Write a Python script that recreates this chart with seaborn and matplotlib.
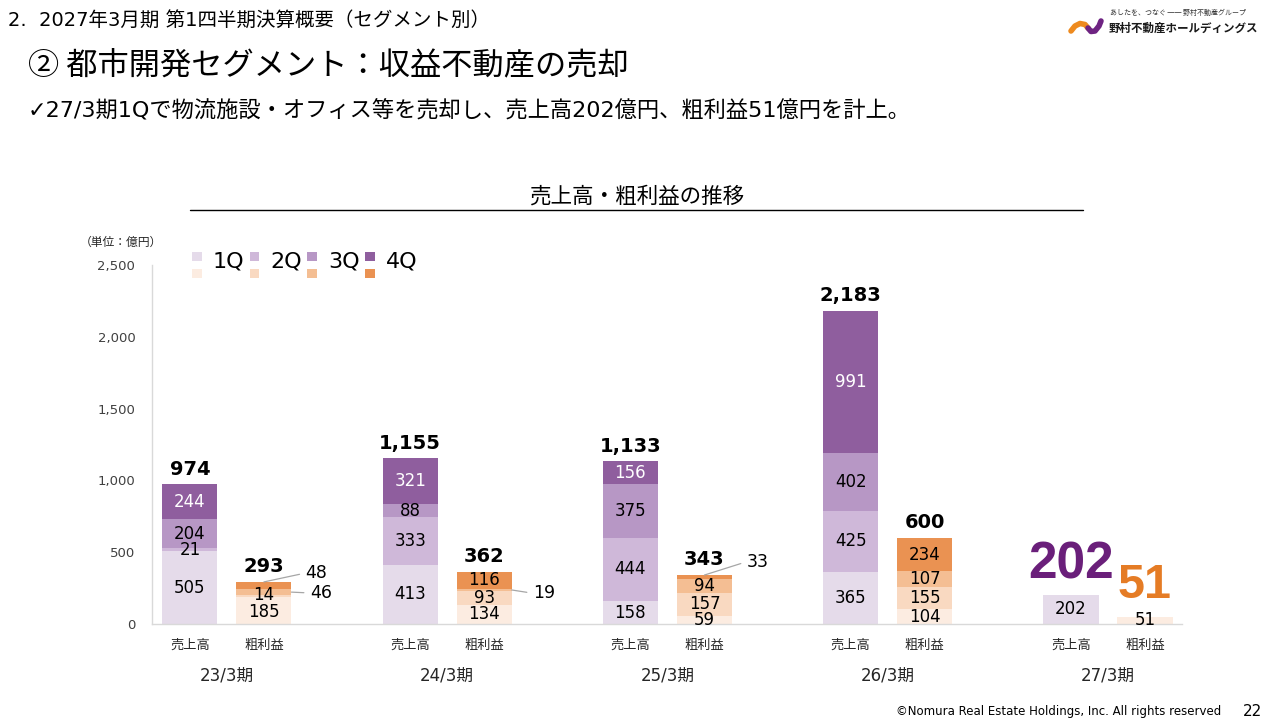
"""都市開発セグメント 売上高・粗利益の推移 — seaborn 積み上げ棒グラフ."""

import matplotlib
matplotlib.use("Agg")
import matplotlib.pyplot as plt
import matplotlib.transforms as mtransforms
from matplotlib.lines import Line2D
from matplotlib.patches import Rectangle
from matplotlib.ticker import FuncFormatter
import numpy as np
import pandas as pd
import seaborn as sns

# データ（単位：億円）
periods = ["23/3期", "24/3期", "25/3期", "26/3期", "27/3期"]
metrics = ["売上高", "粗利益"]
quarters = ["1Q", "2Q", "3Q", "4Q"]

sales_1q = [505, 413, 158, 365, 202]
sales_2q = [21, 333, 444, 425, np.nan]
sales_3q = [204, 88, 375, 402, np.nan]
sales_4q = [244, 321, 156, 991, np.nan]

gp_1q = [185, 134, 59, 104, 51]
gp_2q = [14, 93, 157, 155, np.nan]
gp_3q = [46, 19, 94, 107, np.nan]
gp_4q = [48, 116, 33, 234, np.nan]

sales_colors = {"1Q": "#E5DBEA", "2Q": "#CFB8D9", "3Q": "#B797C5", "4Q": "#8F5E9E"}
gp_colors = {"1Q": "#FCECE1", "2Q": "#F9D9C1", "3Q": "#F4BE93", "4Q": "#EA9252"}

CJK = ["Noto Sans CJK JP", "DejaVu Sans"]
MIX = ["DejaVu Sans", "Noto Sans CJK JP"]  # 欧文はDejaVu、和文はNoto
NUM = ["DejaVu Sans"]

# long形式 + 累積値
rows = []
series = {
    "売上高": [sales_1q, sales_2q, sales_3q, sales_4q],
    "粗利益": [gp_1q, gp_2q, gp_3q, gp_4q],
}
for m in metrics:
    for i, p in enumerate(periods):
        cum = 0.0
        for q, vals in zip(quarters, series[m]):
            v = vals[i]
            if np.isnan(v):
                continue
            cum += v
            rows.append({"period": p, "metric": m, "quarter": q, "value": v, "cum": cum})
df = pd.DataFrame(rows)

sns.set_theme(style="white")
plt.rcParams["font.family"] = CJK
plt.rcParams["axes.unicode_minus"] = False

W, H = 1280, 720
fig = plt.figure(figsize=(12.8, 7.2), dpi=100)


def fx(x):
    return x / W


def fy(y):
    return 1 - y / H


ax = fig.add_axes([fx(152), fy(624), (1182 - 152) / W, (624 - 265) / H])

BAR_W = 0.672
for q in reversed(quarters):
    sub = df[df["quarter"] == q]
    sns.barplot(
        data=sub, x="period", y="cum", hue="metric",
        order=periods, hue_order=metrics,
        palette={"売上高": sales_colors[q], "粗利益": gp_colors[q]},
        width=BAR_W, gap=0.256, dodge=True, saturation=1,
        errorbar=None, legend=False, linewidth=0, ax=ax,
    )

ax.set_xlim(-0.34, 4.336)
ax.set_ylim(0, 2500)
ax.set_yticks(range(0, 2501, 500))
ax.yaxis.set_major_formatter(FuncFormatter(lambda v, _: f"{int(v):,}"))
ax.set_xticks([])
ax.set_xlabel("")
ax.set_ylabel("")
for lab in ax.get_yticklabels():
    lab.set_family(NUM)
    lab.set_fontsize(9.5)
    lab.set_color("#404040")
ax.tick_params(axis="y", length=0, pad=12)
for s in ["top", "right"]:
    ax.spines[s].set_visible(False)
for s in ["left", "bottom"]:
    ax.spines[s].set_color("#D9D9D9")
    ax.spines[s].set_linewidth(1.0)

offset = {"売上高": -BAR_W / 4, "粗利益": BAR_W / 4}
half = 0.125

# 吹き出し（小さい区分）: (期, 指標, 四半期) -> (線の始点, 文字位置)
callouts = {
    (0, "粗利益", "3Q"): ((0 + BAR_W / 4 + half, 222), (0.377, 216)),
    (0, "粗利益", "4Q"): ((0 + BAR_W / 4, 293), (0.357, 355)),
    (1, "粗利益", "3Q"): ((1 + BAR_W / 4 + half, 237), (1.389, 214)),
    (2, "粗利益", "4Q"): ((2 + BAR_W / 4, 341), (2.36, 434)),
}
# 重なりを避けるための微調整（文字のみ）
nudge = {(0, "粗利益", "2Q"): 10, (0, "粗利益", "1Q"): -10}

for _, r in df.iterrows():
    i = periods.index(r["period"])
    x = i + offset[r["metric"]]
    key = (i, r["metric"], r["quarter"])
    txt = f"{int(r['value']):,}"
    if key in callouts:
        xy, xytext = callouts[key]
        ax.annotate(
            txt, xy=xy, xytext=xytext, ha="left", va="center",
            fontsize=12.5, family=NUM, color="#000000",
            arrowprops=dict(arrowstyle="-", color="#A6A6A6", lw=0.9,
                            shrinkA=2, shrinkB=0, relpos=(0, 0.5)),
        )
        continue
    color = "white" if (r["metric"] == "売上高" and r["quarter"] == "4Q") else "#000000"
    ax.text(x, r["cum"] - r["value"] / 2 + nudge.get(key, 0), txt, ha="center",
            va="center", fontsize=12, family=NUM, color=color)

# 合計（27/3期は大きな数字）
for i, p in enumerate(periods[:-1]):
    for m in metrics:
        tot = df[(df["period"] == p) & (df["metric"] == m)]["value"].sum()
        ax.annotate(f"{int(tot):,}", xy=(i + offset[m], tot), xytext=(0, 4),
                    textcoords="offset points", ha="center", va="bottom",
                    fontsize=14, fontweight="bold", family=NUM, color="#000000")

big_tr = mtransforms.blended_transform_factory(ax.transData, fig.transFigure)
ax.text(4 + offset["売上高"], fy(565), f"{sales_1q[-1]:,}", transform=big_tr,
        ha="center", va="center", fontsize=37, fontweight="bold",
        family=["Liberation Sans"], color="#6A1F7A")
ax.text(4 + offset["粗利益"], fy(586), f"{gp_1q[-1]:,}", transform=big_tr,
        ha="center", va="center", fontsize=35, fontweight="bold",
        family=["Liberation Sans"], color="#E57C25")

# x軸ラベル
for i, p in enumerate(periods):
    for m in metrics:
        ax.text(i + offset[m], fy(645), m, transform=big_tr, ha="center",
                va="center", fontsize=9.5, color="#262626", clip_on=False)
    ax.text(i, fy(676), p, transform=big_tr, ha="center", va="center",
            fontsize=12, family=MIX, color="#262626", clip_on=False)

# 凡例（上段: 売上高, 下段: 粗利益）
leg_x = [192, 249.5, 307, 365]
for lx, q in zip(leg_x, quarters):
    fig.add_artist(Rectangle((fx(lx), fy(261)), 9.5 / W, 9.5 / H,
                             transform=fig.transFigure, color=sales_colors[q], lw=0))
    fig.add_artist(Rectangle((fx(lx), fy(278)), 9.5 / W, 9.5 / H,
                             transform=fig.transFigure, color=gp_colors[q], lw=0))
    fig.text(fx(lx + 21), fy(262), q, ha="left", va="center", fontsize=16,
             family=NUM, color="#000000")

fig.text(fx(121), fy(242), "（単位：億円）", ha="center", va="center",
         fontsize=8.5, color="#262626")

# グラフタイトル
fig.text(fx(637), fy(197), "売上高・粗利益の推移", ha="center", va="center",
         fontsize=15.5, color="#000000")
fig.add_artist(Line2D([fx(190), fx(1083)], [fy(210), fy(210)],
                      transform=fig.transFigure, color="#000000", lw=1.0))

# ヘッダー
fig.text(fx(8), fy(20), "2.  2027年3月期 第1四半期決算概要（セグメント別）",
         ha="left", va="center", fontsize=14, family=MIX, color="#000000")
fig.text(fx(28), fy(65), "② 都市開発セグメント：収益不動産の売却",
         ha="left", va="center", fontsize=22.5, color="#000000")
fig.text(fx(28), fy(111),
         "✓27/3期1Qで物流施設・オフィス等を売却し、売上高202億円、粗利益51億円を計上。",
         ha="left", va="center", fontsize=16, color="#000000", family=MIX)

# ロゴ
fig.add_artist(Line2D([fx(1071), fx(1075), fx(1080), fx(1085), fx(1088)],
                      [fy(31), fy(26), fy(23.5), fy(24.5), fy(28)],
                      transform=fig.transFigure, color="#EE8A1E", lw=4,
                      solid_capstyle="round"))
fig.add_artist(Line2D([fx(1088), fx(1091), fx(1095), fx(1099), fx(1101)],
                      [fy(28), fy(31.5), fy(31), fy(26), fy(21)],
                      transform=fig.transFigure, color="#6E2382", lw=4,
                      solid_capstyle="round"))
fig.text(fx(1110), fy(13), "あしたを、つなぐ ── 野村不動産グループ", ha="left",
         va="center", fontsize=5, color="#333333")
fig.text(fx(1109), fy(28), "野村不動産ホールディングス", ha="left", va="center",
         fontsize=8.3, fontweight="bold", color="#1A1A1A")

# フッター
fig.text(fx(1221), fy(712), "©Nomura Real Estate Holdings, Inc. All rights reserved",
         ha="right", va="center", fontsize=8.5, family=NUM, color="#000000")
fig.text(fx(1262), fy(711), "22", ha="right", va="center", fontsize=11,
         family=NUM, color="#000000")

fig.savefig("out.png", dpi=100)
plt.close(fig)
